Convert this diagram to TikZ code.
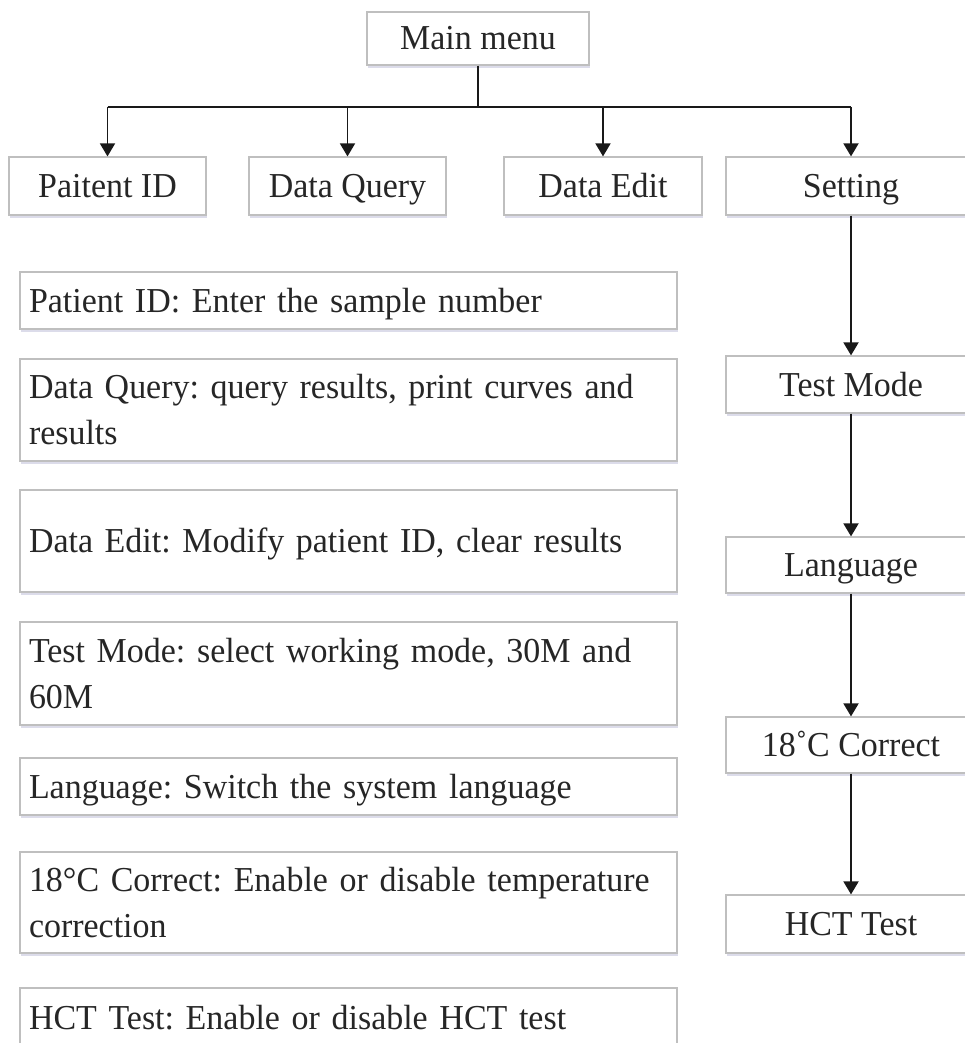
\documentclass[tikz,border=0pt]{standalone}
\usepackage{fontspec}
\setmainfont[FakeStretch=0.97]{Liberation Serif}
\usetikzlibrary{arrows.meta,shadows}
\begin{document}
\frenchspacing
\begin{tikzpicture}[x=1pt,y=-1pt,
  box/.style={draw=black!25, line width=1.2pt, fill=white, rectangle, inner ysep=0pt,
    text=black!85, font=\fontsize{35}{46}\selectfont,
    general shadow={fill=blue!25!gray!22, shadow yshift=-3pt, shadow xshift=1pt}},
  oneline/.style={text height=23pt, text depth=0pt},
  topbox/.style={box, oneline, inner xsep=2pt, minimum height=58pt},
  descbox/.style={box, inner xsep=9pt, text width=639pt, align=left},
  conn/.style={line width=1.8pt, black!90},
  arr/.style={conn, -{Triangle[length=13pt,width=15pt]}}
]
\useasboundingbox[fill=white] (0,0) rectangle (964,1043);

% top level
\node[topbox, minimum width=222pt, minimum height=53pt] (main) at (478,38.5) {Main menu};
\node[topbox, minimum width=197pt] (pid) at (107.5,186) {Paitent ID};
\node[topbox, minimum width=197pt] (dq) at (347.5,186) {Data Query};
\node[topbox, minimum width=198pt] (de) at (603,186) {Data Edit};
\node[topbox, minimum width=250pt] (set) at (851,186) {Setting};

% right column
\node[topbox, minimum width=250pt, minimum height=57pt] (tm) at (851,384.5) {Test Mode};
\node[topbox, minimum width=250pt, minimum height=56pt] (lang) at (851,565) {Language};
\node[topbox, minimum width=250pt, minimum height=56pt] (corr) at (851,745) {18˚C Correct};
\node[topbox, minimum width=250pt, minimum height=58pt] (hct) at (851,924) {HCT Test};

% descriptions
\node[descbox, oneline, minimum height=57pt] (d1) at (348.5,300.5) {Patient ID: Enter the sample number};
\node[descbox, minimum height=102pt] (d2) at (348.5,410) {Data Query: query results, print curves and\\results};
\node[descbox, oneline, minimum height=102pt] (d3) at (348.5,541) {Data Edit: Modify patient ID, clear results};
\node[descbox, minimum height=103pt] (d4) at (348.5,673.5) {Test Mode: select working mode, 30M and\\60M};
\node[descbox, oneline, minimum height=57pt] (d5) at (348.5,786.5) {Language: Switch the system language};
\node[descbox, minimum height=101pt] (d6) at (348.5,902.5) {18°C Correct: Enable or disable temperature\\correction};
\node[descbox, oneline, minimum height=60pt] (d7) at (348.5,1018) {HCT Test: Enable or disable HCT test};

% connectors
\coordinate (bar) at (478,107);
\draw[conn] (main.south) -- (bar);
\draw[conn] (pid.north |- bar) -- (set.north |- bar);
\draw[arr] (pid.north |- bar) -- (pid.north);
\draw[arr] (dq.north |- bar) -- (dq.north);
\draw[arr] (de.north |- bar) -- (de.north);
\draw[arr] (set.north |- bar) -- (set.north);

\draw[arr] (set.south) -- (tm.north);
\draw[arr] (tm.south) -- (lang.north);
\draw[arr] (lang.south) -- (corr.north);
\draw[arr] (corr.south) -- (hct.north);
\end{tikzpicture}
\end{document}
